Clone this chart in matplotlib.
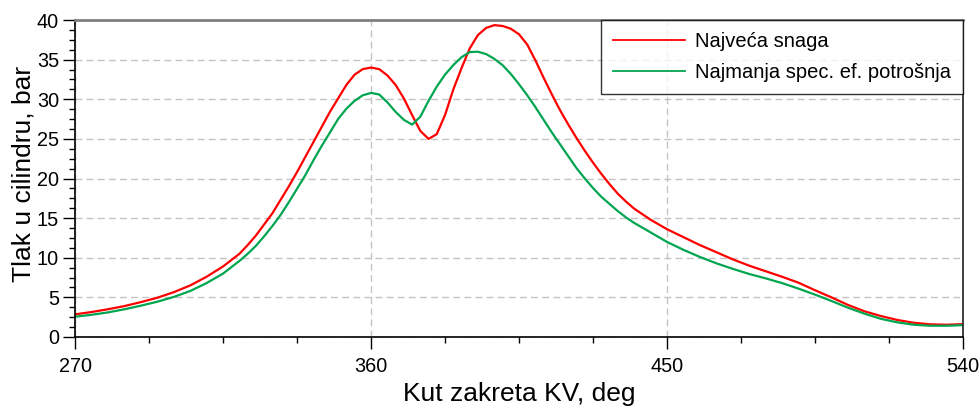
import matplotlib
matplotlib.use("Agg")
import matplotlib.pyplot as plt
from matplotlib.ticker import MultipleLocator

plt.rcParams['font.family'] = ['Liberation Sans', 'DejaVu Sans']

# crank angle, deg
kut = [270, 275, 280, 285, 290, 295, 300, 305, 310, 315, 320, 322.5, 325,
       327.5, 330, 332.5, 335, 337.5, 340, 342.5, 345, 347.5, 350, 352.5, 355,
       357.5, 360, 362.5, 365, 367.5, 370, 372.5, 375, 377.5, 380, 382.5,
       385, 387.5, 390, 392.5, 395, 397.5, 400, 402.5, 405, 407.5, 410,
       412.5, 415, 417.5, 420, 422.5, 425, 427.5, 430, 432.5, 435, 437.5,
       440, 442.5, 445, 447.5, 450,
       455, 460, 465, 470, 475, 480, 485, 490, 495, 500, 505, 510, 515,
       520, 525, 530, 535, 540]

# cylinder pressure, bar
tlak_snaga = [2.86, 3.15, 3.5, 3.9, 4.4, 4.95, 5.65, 6.5, 7.6, 8.9, 10.5, 11.6,
              12.8, 14.2, 15.6, 17.3, 19.0, 20.8, 22.7, 24.6, 26.5, 28.4, 30.1,
              31.8, 33.1, 33.8, 34.0, 33.8, 33.0, 31.8, 30.1, 28.0, 26.0, 25.0,
              25.6, 28.0, 31.2, 33.9, 36.4, 38.1, 39.0, 39.35, 39.25, 38.9,
              38.2, 36.9, 34.9, 32.7, 30.6, 28.6, 26.8, 25.1, 23.5, 22.0, 20.6,
              19.3, 18.1, 17.1, 16.2, 15.5, 14.8, 14.2, 13.6,
              12.6, 11.6, 10.7, 9.8, 9.0, 8.3, 7.6, 6.85, 5.9, 5.0, 4.05, 3.25,
              2.65, 2.15, 1.8, 1.6, 1.55, 1.62]

tlak_potrosnja = [2.56, 2.8, 3.1, 3.5, 3.95, 4.45, 5.05, 5.8, 6.8, 8.0, 9.6,
                  10.5, 11.5, 12.7,
                  14.0, 15.4, 17.0, 18.7, 20.4, 22.3, 24.1, 25.8, 27.5, 28.8,
                  29.8, 30.5, 30.8, 30.6, 29.6, 28.4, 27.4, 26.8, 27.8, 29.8,
                  31.6, 33.1, 34.3, 35.3, 35.95, 36.0, 35.7, 35.1, 34.3, 33.2,
                  31.9, 30.5, 29.0, 27.4, 25.8, 24.3, 22.8, 21.3, 20.0, 18.8,
                  17.7, 16.8, 15.9, 15.1, 14.4, 13.8, 13.2, 12.6, 12.0,
                  11.0, 10.1, 9.3, 8.6, 7.95, 7.4, 6.8, 6.1, 5.35, 4.55, 3.7,
                  2.95, 2.3, 1.85, 1.55, 1.42, 1.42, 1.5]

fig = plt.figure(figsize=(9.8, 4.07), dpi=100)
ax = fig.add_axes([75 / 980, 1 - 337 / 407, 888 / 980, 317 / 407])

ax.plot(kut, tlak_snaga, color='#ff0000', lw=1.6, label='Najveća snaga')
ax.plot(kut, tlak_potrosnja, color='#00a550', lw=1.6,
        label='Najmanja spec. ef. potrošnja')

ax.set_xlim(270, 540)
ax.set_ylim(0, 40)
ax.xaxis.set_major_locator(MultipleLocator(90))
ax.xaxis.set_minor_locator(MultipleLocator(22.5))
ax.yaxis.set_major_locator(MultipleLocator(5))
ax.yaxis.set_minor_locator(MultipleLocator(1.25))

ax.tick_params(which='major', direction='out', length=8.5, width=1,
               labelsize=14.3, color='black')
ax.tick_params(axis='x', which='major', pad=6)
ax.tick_params(axis='y', which='major', pad=3)
ax.tick_params(which='minor', direction='out', length=4.3, width=1)

ax.grid(True, which='major', color='#c4c4c4', ls=(0, (5, 3)), lw=1)
ax.set_axisbelow(True)

ax.spines['top'].set_color('#808080')
ax.spines['top'].set_linewidth(2)
ax.spines['right'].set_color('#303030')
ax.spines['right'].set_linewidth(1.3)
ax.spines['left'].set_linewidth(1.2)
ax.spines['bottom'].set_linewidth(1.2)

ax.set_xlabel('Kut zakreta KV, deg', fontsize=19, labelpad=4)
ax.set_ylabel('Tlak u cilindru, bar', fontsize=19)
ax.yaxis.set_label_coords(-0.045, 0.514)

leg = ax.legend(loc='upper right', bbox_to_anchor=(1, 1), borderaxespad=0,
                fontsize=14.5, frameon=True, fancybox=False, handlelength=3.55,
                handletextpad=0.5, labelspacing=0.6, borderpad=0.6)
leg.get_frame().set_edgecolor('black')
leg.get_frame().set_linewidth(1)
for line in leg.get_lines():
    line.set_linewidth(1.3)

fig.savefig('out.png', dpi=100)
